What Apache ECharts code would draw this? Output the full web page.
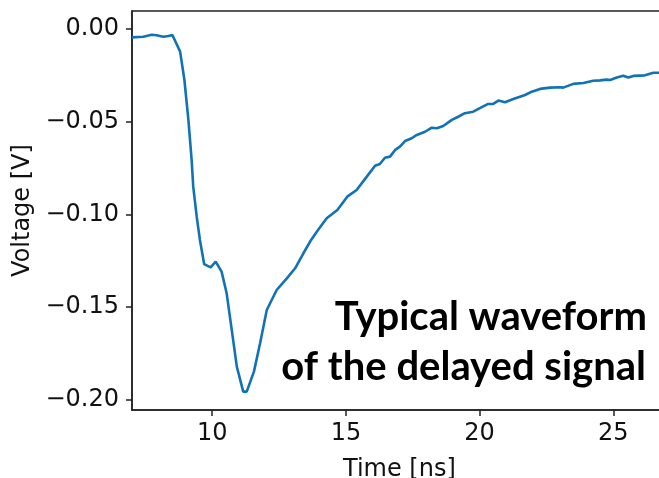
<!DOCTYPE html>
<html>
<head>
<meta charset="utf-8">
<script src="https://cdn.jsdelivr.net/npm/echarts@6/dist/echarts.min.js"></script>
<style>html,body{margin:0;padding:0;background:#fff;}#c{width:659px;height:478px;}</style>
</head>
<body>
<div id="c"></div>
<script>
// Time [ns]
var times = [7.00, 7.42, 7.74, 7.92, 8.17, 8.36, 8.51, 8.80, 8.96, 9.11, 9.23, 9.29, 9.42, 9.54, 9.70, 9.94, 10.13, 10.35, 10.54, 10.73, 10.92, 11.16, 11.29, 11.56, 11.79, 12.04, 12.41, 12.79, 13.10, 13.41, 13.66, 13.91, 14.28, 14.68, 15.05, 15.40, 15.78, 16.09, 16.27, 16.46, 16.65, 16.84, 17.02, 17.21, 17.46, 17.65, 17.96, 18.21, 18.40, 18.64, 18.96, 19.20, 19.45, 19.76, 20.01, 20.32, 20.51, 20.70, 20.95, 21.26, 21.70, 21.95, 22.26, 22.63, 23.01, 23.13, 23.50, 23.88, 24.25, 24.50, 24.75, 24.88, 25.13, 25.37, 25.56, 25.75, 26.18, 26.50, 26.71];
// Voltage [V]
var volts = [-0.0045, -0.0042, -0.0031, -0.0034, -0.0042, -0.0038, -0.0032, -0.0122, -0.0275, -0.0491, -0.0706, -0.0850, -0.1012, -0.1137, -0.1268, -0.1285, -0.1254, -0.1308, -0.1425, -0.1622, -0.1820, -0.1955, -0.1955, -0.1847, -0.1694, -0.1515, -0.1407, -0.1344, -0.1290, -0.1209, -0.1146, -0.1093, -0.1020, -0.0976, -0.0904, -0.0868, -0.0796, -0.0737, -0.0728, -0.0694, -0.0688, -0.0652, -0.0634, -0.0604, -0.0589, -0.0571, -0.0554, -0.0532, -0.0535, -0.0523, -0.0490, -0.0473, -0.0454, -0.0446, -0.0427, -0.0404, -0.0404, -0.0386, -0.0395, -0.0377, -0.0356, -0.0338, -0.0323, -0.0316, -0.0314, -0.0316, -0.0296, -0.0291, -0.0279, -0.0277, -0.0273, -0.0275, -0.0262, -0.0252, -0.0262, -0.0253, -0.0250, -0.0236, -0.0236];
var xTicks = [10, 15, 20, 25];
var yTicks = [0.00, -0.05, -0.10, -0.15, -0.20];
var annotationLines = ['Typical waveform', 'of the delayed signal'];

var chart = echarts.init(document.getElementById('c'), null, {renderer: 'canvas'});
var seriesData = times.map(function (t, i) { return [t, volts[i]]; });
var axisCol = '#222';
var labelFont = {fontFamily: 'DejaVu Sans', fontSize: 24, color: '#111'};

chart.setOption({
  animation: false,
  backgroundColor: '#fff',
  grid: {left: 132, top: 11, width: 534.8, height: 399, containLabel: false, outerBoundsMode: 'none',
         show: true, borderColor: axisCol, borderWidth: 1.5, backgroundColor: 'transparent'},
  xAxis: {
    type: 'value', min: 7, max: 27,
    name: 'Time [ns]', nameLocation: 'middle', nameGap: 48,
    nameTextStyle: labelFont,
    axisLine: {show: true, onZero: false, lineStyle: {color: axisCol, width: 1.5}},
    axisTick: {show: true, length: 6, customValues: xTicks, lineStyle: {color: axisCol, width: 1.5}},
    axisLabel: Object.assign({customValues: xTicks, margin: 12}, labelFont),
    splitLine: {show: false}
  },
  yAxis: {
    type: 'value', min: -0.2054, max: 0.0097,
    name: 'Voltage [V]', nameLocation: 'middle', nameGap: 92,
    nameTextStyle: labelFont,
    axisLine: {show: true, onZero: false, lineStyle: {color: axisCol, width: 1.5}},
    axisTick: {show: true, length: 6, customValues: yTicks, lineStyle: {color: axisCol, width: 1.5}},
    axisLabel: Object.assign({
      customValues: yTicks, margin: 13,
      formatter: function (v) { return (v < 0 ? '\u2212' : '') + Math.abs(v).toFixed(2); }
    }, labelFont),
    splitLine: {show: false}
  },
  graphic: [
    {type: 'text', right: 12, top: 297, z: 100, style: {text: annotationLines[0], font: 'bold 40px Lato', fill: '#000', textAlign: 'right'}},
    {type: 'text', right: 13, top: 347, z: 100, style: {text: annotationLines[1], font: 'bold 40px Lato', fill: '#000', textAlign: 'right'}}
  ],
  series: [{
    type: 'line', data: seriesData, showSymbol: false, symbol: 'none',
    lineStyle: {color: '#1272b6', width: 2.6}, clip: true
  }]
});
</script>
</body>
</html>
